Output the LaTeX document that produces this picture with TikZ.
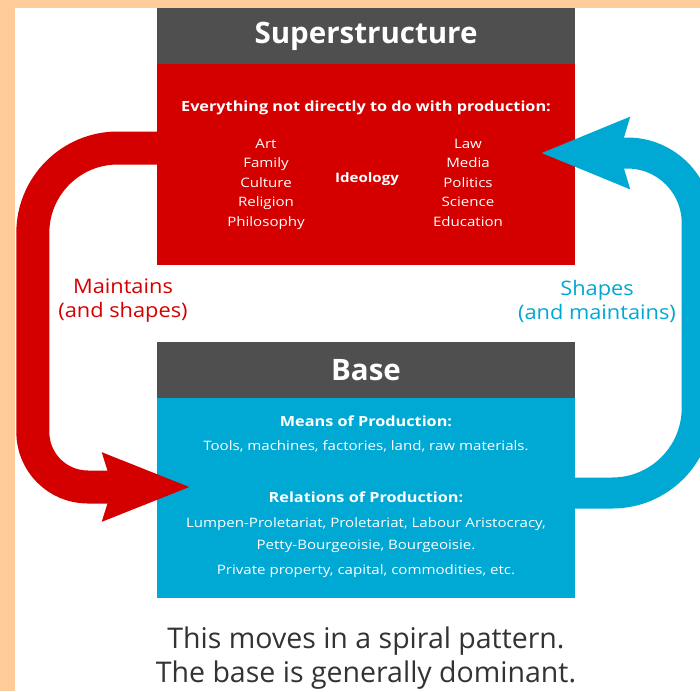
\documentclass[tikz,border=0pt]{standalone}
\usepackage{fontspec}
\setmainfont{Open Sans}
\newfontfamily\widefont[FakeStretch=1.16]{Open Sans}
\newfontfamily\sidefont[FakeStretch=1.09]{Open Sans}
\usetikzlibrary{positioning, arrows.meta}
\definecolor{peach}{HTML}{FFCC99}
\definecolor{headgray}{HTML}{4F4F4F}
\definecolor{superred}{HTML}{D40000}
\definecolor{baseblue}{HTML}{00A8D4}
\definecolor{captiongray}{HTML}{333333}

\begin{document}
\begin{tikzpicture}[x=1pt, y=-1pt,
    headbox/.style={fill=headgray, minimum width=418pt, minimum height=56pt, inner sep=0pt,
        text=white, font=\fontsize{29.5}{31}\selectfont\bfseries},
    bodybox/.style={minimum width=418pt, inner sep=0pt},
    boxtext/.style={text=white, inner sep=0pt, text height=9pt, text depth=3pt,
        font=\widefont\fontsize{13}{15}\selectfont},
    boxtitle/.style={boxtext, font=\widefont\fontsize{14}{16}\selectfont\bfseries},
    sidelabel/.style={inner sep=0pt, align=center, font=\sidefont\fontsize{20}{24}\selectfont},
    redarrow/.style={draw=superred, line width=33pt, -{Stealth[length=86pt, width=64pt, inset=8pt]}},
    bluearrow/.style={draw=baseblue, line width=31pt, -{Stealth[length=87pt, width=67pt, inset=8pt]}}]

    % Background and frame
    \fill[peach] (0,0) rectangle (700,691);
    \fill[white] (15,8) rectangle (700,691);
    \useasboundingbox (0,0) rectangle (700,691);

    % Superstructure block
    \node[headbox] (superhead) at (366,36) {Superstructure};
    \node[bodybox, fill=superred, minimum height=201pt] (superbody) at (366,164.5) {};
    \node[boxtitle] (everything) at (366,108) {Everything not directly to do with production:};
    \foreach \word [count=\i] in {Art,Family,Culture,Religion,Philosophy}
        \node[boxtext] (left-\i) at (266,125.5+19.5*\i) {\word};
    \node[boxtext, font=\widefont\fontsize{13}{15}\selectfont\bfseries] (ideology) at (367,179) {Ideology};
    \foreach \word [count=\i] in {Law,Media,Politics,Science,Education}
        \node[boxtext] (right-\i) at (468,125.5+19.5*\i) {\word};

    % Base block
    \node[headbox] (basehead) at (366,370) {Base};
    \node[bodybox, fill=baseblue, minimum height=200pt] (basebody) at (366,498) {};
    \node[boxtitle] (means) at (366,423) {Means of Production:};
    \node[boxtext] (tools) at (366,447) {Tools, machines, factories, land, raw materials.};
    \node[boxtitle] (relations) at (366,499) {Relations of Production:};
    \node[boxtext] (classes-1) at (366,524) {Lumpen-Proletariat, Proletariat, Labour Aristocracy,};
    \node[boxtext] (classes-2) at (366,546) {Petty-Bourgeoisie, Bourgeoisie.};
    \node[boxtext] (property) at (366,571) {Private property, capital, commodities, etc.};

    % Arrows between the blocks
    \coordinate (redstart) at ([yshift=16.5pt]superbody.west);
    \coordinate (redend) at ([xshift=34pt, yshift=11pt]basebody.west);
    \draw[redarrow] (redstart) [rounded corners=85pt] -- ++(-124,0) [rounded corners=55pt] |- (redend);
    \coordinate (bluestart) at ([yshift=5pt]basebody.east);
    \coordinate (blueend) at ([xshift=-35pt, yshift=11.5pt]superbody.east);
    \draw[bluearrow] (bluestart) [rounded corners=85pt] -- ++(122,0) [rounded corners=70pt] |- (blueend);

    % Side labels
    \node[sidelabel, text=superred] (maintains) at (123,301) {Maintains\\(and shapes)};
    \node[sidelabel, text=baseblue] (shapes) at (597,301) {Shapes\\(and maintains)};

    % Caption
    \node[align=center, text=captiongray, font=\fontsize{28.5}{34}\selectfont] (caption) at (366,658)
        {This moves in a spiral pattern.\\The base is generally dominant.};
\end{tikzpicture}
\end{document}
